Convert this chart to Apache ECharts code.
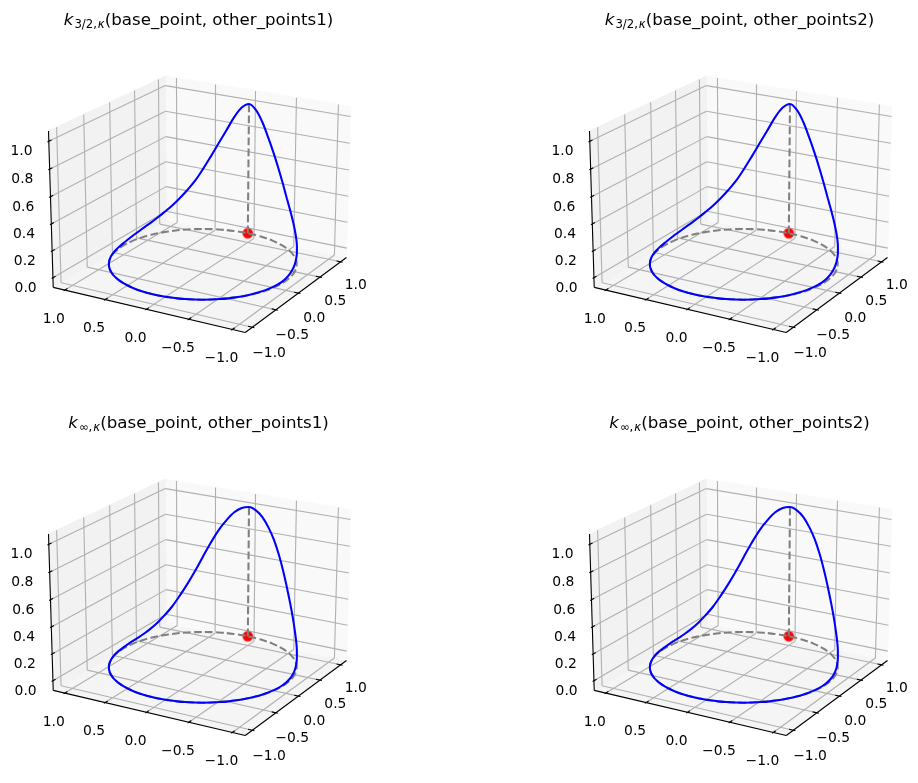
<!DOCTYPE html>
<html><head><meta charset="utf-8">
<style>html,body{margin:0;padding:0;background:#fff}#c{width:918px;height:783px}</style>
<script src="https://cdn.jsdelivr.net/npm/echarts@6/dist/echarts.min.js"></script>
</head><body><div id="c"></div>
<script>
// ---- data ----
const circleX=[-1,-.9962,-.9848,-.9659,-.9397,-.9063,-.866,-.8192,-.766,-.7071,-.6428,-.5736,-.5,-.4226,-.342,-.2588,-.1736,-.0872,0,.0872,.1736,.2588,.342,.4226,.5,.5736,.6428,.7071,.766,.8192,.866,.9063,.9397,.9659,.9848,.9962,1,.9962,.9848,.9659,.9397,.9063,.866,.8192,.766,.7071,.6428,.5736,.5,.4226,.342,.2588,.1736,.0872,0,-.0872,-.1736,-.2588,-.342,-.4226,-.5,-.5736,-.6428,-.7071,-.766,-.8192,-.866,-.9063,-.9397,-.9659,-.9848,-.9962,-1];
const circleY=[0,-.0872,-.1736,-.2588,-.342,-.4226,-.5,-.5736,-.6428,-.7071,-.766,-.8192,-.866,-.9063,-.9397,-.9659,-.9848,-.9962,-1,-.9962,-.9848,-.9659,-.9397,-.9063,-.866,-.8192,-.766,-.7071,-.6428,-.5736,-.5,-.4226,-.342,-.2588,-.1736,-.0872,0,.0872,.1736,.2588,.342,.4226,.5,.5736,.6428,.7071,.766,.8192,.866,.9063,.9397,.9659,.9848,.9962,1,.9962,.9848,.9659,.9397,.9063,.866,.8192,.766,.7071,.6428,.5736,.5,.4226,.342,.2588,.1736,.0872,0];
const heights32=[0,0,0,0,0,0,0,0,0,0,.001,.001,.002,.003,.004,.006,.008,.012,.018,.027,.04,.055,.075,.097,.125,.16,.20,.25,.31,.38,.47,.57,.675,.78,.885,.965,1,.965,.885,.78,.675,.57,.47,.38,.31,.25,.20,.16,.125,.097,.075,.055,.04,.027,.018,.012,.008,.006,.004,.003,.002,.001,.001,0,0,0,0,0,0,0,0,0,0];
const heightsInf=[0,0,0,0,0,0,0,0,0,0,0,0,0,0,.001,.002,.003,.005,.008,.014,.022,.033,.05,.075,.11,.157,.215,.292,.38,.48,.59,.70,.80,.88,.945,.985,1,.985,.945,.88,.80,.70,.59,.48,.38,.292,.215,.157,.11,.075,.05,.033,.022,.014,.008,.005,.003,.002,.001,0,0,0,0,0,0,0,0,0,0,0,0,0,0];
const baseX=1, baseY=0, baseZ=0, peakZ=1;
const horizTicks=[-1,-.5,0,.5,1];
const horizLabels=['\u22121.0','\u22120.5','0.0','0.5','1.0'];
const zTicks=[0,.2,.4,.6,.8,1];
const zLabels=['0.0','0.2','0.4','0.6','0.8','1.0'];
const panelTitles=[
 ['3/2,','other_points1'],['3/2,','other_points2'],
 ['\u221E,','other_points1'],['\u221E,','other_points2']];
const panelHeights=[heights32,heights32,heightsInf,heightsInf];

// ---- view (elev 20, azim 210) ----
const LIM=1.1458, ZLO=-0.0729, ZHI=1.0729, HB=0.5952, HZ=0.4464, DIST=10;
const U=[.5,-.866025,0], V=[.296198,.17101,.939693], W=[-.813798,-.469846,.34202];
function proj(x,y,z){
  const p=[x/LIM*HB,y/LIM*HB,(z-0.5)/(ZHI-0.5)*HZ];
  const dot=a=>a[0]*p[0]+a[1]*p[1]+a[2]*p[2];
  const d=DIST-dot(W);
  return [dot(U)/d,dot(V)/d];
}
const S=1830, HALF=170, OX=202.8, OY=196.5, DX=541, DY=403;

const grids=[],xAxes=[],yAxes=[],series=[],titles=[];
const PANE_RIGHT='#f9f9f9',PANE_LEFT='#f2f2f2',PANE_FLOOR='#f5f5f5',GRID='#b0b0b0',AX='#000';
const seg=(a,b,c,w)=>({value:[a[0],a[1],b[0],b[1]],c,w});

for(let i=0;i<4;i++){
  const col=i%2,row=i>>1,ox=OX+DX*col,oy=OY+DY*row;
  grids.push({left:ox-HALF,top:oy-HALF,width:2*HALF,height:2*HALF,containLabel:false,show:false});
  xAxes.push({type:'value',gridIndex:i,min:-HALF/S,max:HALF/S,show:false});
  yAxes.push({type:'value',gridIndex:i,min:-HALF/S,max:HALF/S,show:false});
  const base={xAxisIndex:i,yAxisIndex:i,silent:true,animation:false};
  // panes
  const L=LIM;
  const panes=[
    {pts:[proj(-L,-L,ZLO),proj(L,-L,ZLO),proj(L,L,ZLO),proj(-L,L,ZLO)],c:PANE_FLOOR},
    {pts:[proj(L,-L,ZLO),proj(L,L,ZLO),proj(L,L,ZHI),proj(L,-L,ZHI)],c:PANE_RIGHT},
    {pts:[proj(-L,L,ZLO),proj(L,L,ZLO),proj(L,L,ZHI),proj(-L,L,ZHI)],c:PANE_LEFT}];
  series.push(Object.assign({},base,{type:'custom',z:1,clip:false,
    data:panes.map(p=>({value:[].concat(...p.pts),c:p.c})),
    renderItem(params,api){
      const d=panes[params.dataIndex];
      return {type:'polygon',shape:{points:d.pts.map(q=>api.coord(q))},style:{fill:d.c,stroke:d.c,lineWidth:1}};
    }}));
  // grid lines, axis lines, ticks
  const segs=[];
  const TO=.024, TI=.048;
  horizTicks.forEach(t=>{
    segs.push(seg(proj(t,-L,ZLO),proj(t,L,ZLO),GRID,1.1));
    segs.push(seg(proj(t,L,ZLO),proj(t,L,ZHI),GRID,1.1));
    segs.push(seg(proj(-L,t,ZLO),proj(L,t,ZLO),GRID,1.1));
    segs.push(seg(proj(L,t,ZLO),proj(L,t,ZHI),GRID,1.1));
  });
  zTicks.forEach(t=>{
    segs.push(seg(proj(-L,L,t),proj(L,L,t),GRID,1.1));
    segs.push(seg(proj(L,L,t),proj(L,-L,t),GRID,1.1));
  });
  segs.push(seg(proj(-L,L,ZLO),proj(-L,-L,ZLO),AX,1.1));
  segs.push(seg(proj(-L,-L,ZLO),proj(L,-L,ZLO),AX,1.1));
  segs.push(seg(proj(-L,L,ZLO),proj(-L,L,ZHI),AX,1.1));
  horizTicks.forEach(t=>{
    segs.push(seg(proj(t,-L-TO,ZLO),proj(t,-L+TI,ZLO),AX,1.1));
    segs.push(seg(proj(-L-TO,t,ZLO),proj(-L+TI,t,ZLO),AX,1.1));
  });
  zTicks.forEach(t=>segs.push(seg(proj(-L-TO,L,t),proj(-L+TI,L,t),AX,1.1)));
  series.push(Object.assign({},base,{type:'custom',z:2,clip:false,data:segs,
    renderItem(params,api){
      const s=segs[params.dataIndex];
      const a=api.coord([s.value[0],s.value[1]]),b=api.coord([s.value[2],s.value[3]]);
      return {type:'line',shape:{x1:a[0],y1:a[1],x2:b[0],y2:b[1]},style:{stroke:s.c,lineWidth:s.w,fill:null}};
    }}));
  // base point, dashed circle on the floor, vertical, blue curve
  const h=panelHeights[i];
  series.push(Object.assign({},base,{type:'scatter',z:3,clip:false,symbol:'circle',symbolSize:10.5,
    data:[proj(baseX,baseY,baseZ)],
    itemStyle:{color:'#ff0000',borderColor:'rgba(255,120,120,.45)',borderWidth:1.5,opacity:1}}));
  const lineBase=Object.assign({},base,{type:'line',clip:false,showSymbol:false,symbol:'none',sampling:null});
  series.push(Object.assign({},lineBase,{z:4,smooth:0.25,
    data:circleX.map((x,k)=>proj(x,circleY[k],0)),
    lineStyle:{color:'#808080',width:2.08,type:[7.7,3.3]}}));
  series.push(Object.assign({},lineBase,{z:4,
    data:[proj(baseX,baseY,baseZ),proj(baseX,baseY,peakZ)],
    lineStyle:{color:'#808080',width:2.08,type:[7.7,3.3]}}));
  series.push(Object.assign({},lineBase,{z:5,smooth:0.35,
    data:circleX.map((x,k)=>proj(x,circleY[k],h[k])),
    lineStyle:{color:'#0000ff',width:2.08}}));
  // tick labels
  const labs=[];
  horizTicks.forEach((t,k)=>{
    labs.push({pt:proj(-L,t,ZLO),s:horizLabels[k],dx:-11,dy:29});
    labs.push({pt:proj(t,-L,ZLO),s:horizLabels[k],dx:15.9-.8*t,dy:25-1.4*t});
  });
  zTicks.forEach((t,k)=>labs.push({pt:proj(-L,L,t),s:zLabels[k],dx:-27.3,dy:10.5}));
  series.push(Object.assign({},base,{type:'custom',z:6,clip:false,
    data:labs.map(l=>({value:l.pt,name:l.s})),
    renderItem(params,api){
      const l=labs[params.dataIndex];
      const a=api.coord(l.pt);
      return {type:'text',x:a[0]+l.dx,y:a[1]+l.dy,
        style:{text:l.s,fill:'#000',font:'13.89px "DejaVu Sans"',align:'center',verticalAlign:'middle'}};
    }}));
  // title
  titles.push({
    text:'{k|k}{s|'+panelTitles[i][0]+'}{si|\u03BA}{t|(base_point, '+panelTitles[i][1]+')}',
    left:193.5+DX*col,top:row?408:5,textAlign:'center',
    textStyle:{fontFamily:'DejaVu Sans',fontSize:16.67,fontWeight:'normal',color:'#000',
      rich:{
        k:{fontFamily:'DejaVu Sans',fontStyle:'italic',fontSize:16.67,color:'#000'},
        s:{fontFamily:'DejaVu Sans',fontSize:11.67,color:'#000',padding:[9,0,0,1]},
        si:{fontFamily:'DejaVu Sans',fontStyle:'italic',fontSize:11.67,color:'#000',padding:[9,0,0,1]},
        t:{fontFamily:'DejaVu Sans',fontSize:16.67,color:'#000',padding:[0,0,0,0]}
      }}
  });
}
const chart=echarts.init(document.getElementById('c'),null,{renderer:'canvas'});
chart.setOption({animation:false,backgroundColor:'#fff',title:titles,grid:grids,xAxis:xAxes,yAxis:yAxes,series,tooltip:{show:false},legend:{show:false}});
</script></body></html>
